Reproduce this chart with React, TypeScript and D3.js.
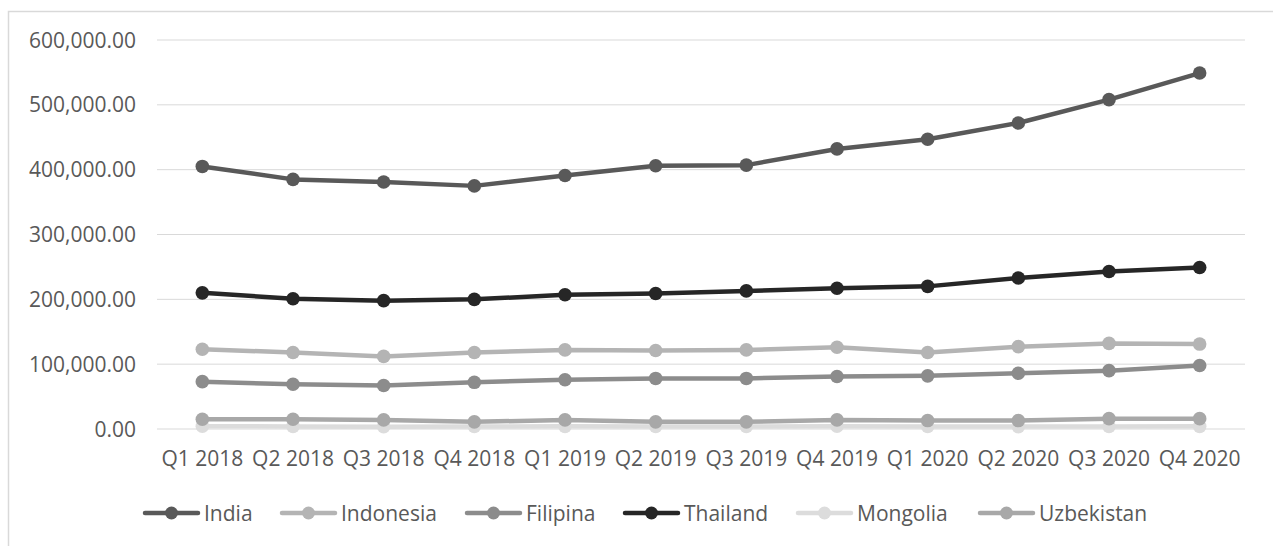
import React from "react";
import * as d3 from "d3";

// Quarterly figures per country (values in units, y axis formatted with 2 decimals)
const quarters = [
  "Q1 2018", "Q2 2018", "Q3 2018", "Q4 2018",
  "Q1 2019", "Q2 2019", "Q3 2019", "Q4 2019",
  "Q1 2020", "Q2 2020", "Q3 2020", "Q4 2020",
];

const india = [405000, 385000, 381000, 375000, 391000, 406000, 407000, 432000, 447000, 472000, 508000, 549000];
const indonesia = [123000, 118000, 112000, 118000, 122000, 121000, 122000, 126000, 118000, 127000, 132000, 131000];
const filipina = [73000, 69000, 67000, 72000, 76000, 78000, 78000, 81000, 82000, 86000, 90000, 98000];
const thailand = [210000, 201000, 198000, 200000, 207000, 209000, 213000, 217000, 220000, 233000, 243000, 249000];
const mongolia = [4200, 4000, 3500, 3800, 4100, 4000, 3900, 4300, 4000, 3700, 3900, 4100];
const uzbekistan = [15000, 15000, 14000, 11000, 14000, 11000, 11000, 14000, 13000, 13000, 16000, 16000];

const yTicks = [0, 100000, 200000, 300000, 400000, 500000, 600000];

const seriesNames = ["India", "Indonesia", "Filipina", "Thailand", "Mongolia", "Uzbekistan"];
const seriesValues = [india, indonesia, filipina, thailand, mongolia, uzbekistan];
const seriesColors = ["#595959", "#b4b4b4", "#8c8c8c", "#262626", "#dcdcdc", "#a8a8a8"];

const W = 1273;
const H = 546;
const FONT = "'Open Sans', sans-serif";
const TEXT = "#595959";

const plotLeft = 157;
const plotRight = 1245;
const plotTop = 40;
const plotBottom = 429;

const fmt = d3.format(",.2f");

export default function App() {
  const x = d3.scaleBand<string>().domain(quarters).range([plotLeft, plotRight]);
  const cx = (q: string) => (x(q) ?? 0) + x.bandwidth() / 2;
  const y = d3.scaleLinear().domain([0, 600000]).range([plotBottom, plotTop]);

  const line = d3
    .line<number>()
    .x((_, i) => cx(quarters[i]))
    .y((v) => y(v));

  // legend layout: marker line + label, laid out left to right
  const legendX = [145, 282, 467, 625, 798, 980];
  const legendY = 513;

  return (
    <svg
      width={W}
      height={H}
      style={{ position: "absolute", left: 0, top: 0, background: "#fff" }}
      fontFamily={FONT}
    >
      <rect x={8.5} y={11.5} width={1300} height={600} fill="#fff" stroke="#d9d9d9" strokeWidth={1.5} />

      {yTicks.map((t) => (
        <g key={t}>
          <line x1={plotLeft} x2={plotRight} y1={y(t)} y2={y(t)} stroke="#d9d9d9" strokeWidth={1} />
          <text x={136} y={y(t)} dy="0.36em" textAnchor="end" fontSize={21} fill={TEXT}>
            {fmt(t)}
          </text>
        </g>
      ))}

      {quarters.map((q) => (
        <text key={q} x={cx(q)} y={458} dy="0.36em" textAnchor="middle" fontSize={21} fill={TEXT}>
          {q}
        </text>
      ))}

      {seriesValues.map((vals, si) => (
        <g key={seriesNames[si]}>
          <path d={line(vals) ?? ""} fill="none" stroke={seriesColors[si]} strokeWidth={4.5} strokeLinejoin="round" />
          {vals.map((v, i) => (
            <circle key={i} cx={cx(quarters[i])} cy={y(v)} r={6.8} fill={seriesColors[si]} />
          ))}
        </g>
      ))}

      {seriesNames.map((name, si) => (
        <g key={name} transform={`translate(${legendX[si]},${legendY})`}>
          <line x1={0} x2={53} y1={0} y2={0} stroke={seriesColors[si]} strokeWidth={4.5} strokeLinecap="round" />
          <circle cx={26.5} cy={0} r={6.5} fill={seriesColors[si]} />
          <text x={59} y={0} dy="0.36em" fontSize={21} fill={TEXT}>
            {name}
          </text>
        </g>
      ))}
    </svg>
  );
}
